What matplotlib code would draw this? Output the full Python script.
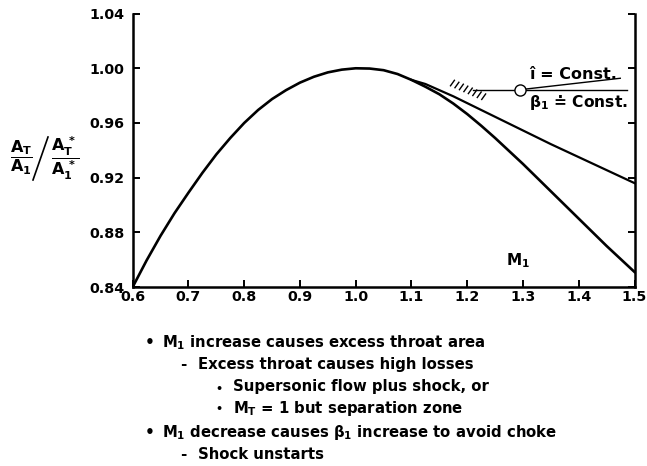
import numpy as np
import matplotlib
matplotlib.use("Agg")
import matplotlib.pyplot as plt
from matplotlib.lines import Line2D

# Throat-area ratio vs inlet Mach number
m_left = [0.600, 0.625, 0.650, 0.675, 0.700, 0.725, 0.750, 0.775, 0.800, 0.825,
          0.850, 0.875, 0.900, 0.925, 0.950, 0.975, 1.000, 1.025, 1.050, 1.075, 1.100]
ratio_left = [0.840, 0.8595, 0.8775, 0.894, 0.909, 0.9235, 0.937, 0.949, 0.960, 0.9695,
              0.9775, 0.984, 0.9895, 0.9938, 0.997, 0.999, 1.000, 0.9998, 0.9986, 0.9958, 0.9915]

m_right = [1.100, 1.125, 1.150, 1.175, 1.200, 1.225, 1.250, 1.275, 1.300, 1.350, 1.400, 1.450, 1.500]
ratio_beta = [0.9915, 0.9865, 0.981, 0.9742, 0.9665, 0.958, 0.949, 0.9395, 0.930, 0.910, 0.890, 0.870, 0.851]
ratio_inc = [0.9915, 0.9885, 0.984, 0.9795, 0.9745, 0.9695, 0.9645, 0.9595, 0.9545, 0.9445, 0.935, 0.9255, 0.916]

x_ticks = [0.6, 0.7, 0.8, 0.9, 1.0, 1.1, 1.2, 1.3, 1.4, 1.5]
y_ticks = [0.84, 0.88, 0.92, 0.96, 1.00, 1.04]

bullets = [
    (0, r"$M_1$ increase causes excess throat area"),
    (1, "Excess throat causes high losses"),
    (2, "Supersonic flow plus shock, or"),
    (2, r"$M_T$ = 1 but separation zone"),
    (0, r"$M_1$ decrease causes $\beta_1$ increase to avoid choke"),
    (1, "Shock unstarts"),
]

plt.rcParams["font.family"] = ["DejaVu Sans"]
plt.rcParams["font.weight"] = "bold"
plt.rcParams["mathtext.fontset"] = "custom"
plt.rcParams["mathtext.rm"] = "DejaVu Sans:bold"
plt.rcParams["mathtext.it"] = "DejaVu Sans:bold"
plt.rcParams["mathtext.bf"] = "DejaVu Sans:bold"
plt.rcParams["mathtext.sf"] = "DejaVu Sans:bold"
plt.rcParams["mathtext.fallback"] = "stixsans"

W, H = 647, 466
fig = plt.figure(figsize=(W / 100, H / 100), dpi=100)
ax = fig.add_axes([132.7 / W, 1 - 287 / H, (634.5 - 132.7) / W, (287 - 13.6) / H])

ax.plot(m_left + m_right[1:], ratio_left + ratio_beta[1:], color="black", lw=1.9,
        solid_joinstyle="round")
ax.plot(m_right, ratio_inc, color="black", lw=1.6, solid_joinstyle="round")

# operating point with the two constant lines
op_m, op_r = 1.294, 0.9843
ax.plot([1.21, op_m], [op_r, op_r], color="black", lw=1.0)
ax.plot([op_m, 1.486], [op_r, op_r], color="black", lw=1.0)
ax.plot([op_m, 1.4745], [op_r, 0.9927], color="black", lw=1.0)
ax.plot([op_m], [op_r], marker="o", ms=8, mfc="white", mec="black", mew=1.0, zorder=5)

# hatched wall
for s in np.linspace(0, 1, 8):
    x0 = 1.170 + s * (1.226 - 1.170)
    y0 = 0.9872 + s * (0.9772 - 0.9872)
    ax.plot([x0, x0 + 0.0070], [y0, y0 + 0.0040], color="black", lw=1.0)

ax.text(1.390, 0.9958, "î = Const.", fontsize=11.5, ha="center", va="center")
ax.text(1.400, 0.9753, r"$\beta_1$ ≐ Const.", fontsize=11.2, ha="center", va="center")
ax.text(1.291, 0.859, r"$M_1$", fontsize=11, ha="center", va="center")

ax.set_xlim(0.6, 1.5)
ax.set_ylim(0.84, 1.04)
ax.set_xticks(x_ticks)
ax.set_xticklabels([f"{v:.1f}" for v in x_ticks])
ax.set_yticks(y_ticks)
ax.set_yticklabels([f"{v:.2f}" for v in y_ticks])
ax.spines["top"].set_visible(False)
for side in ["left", "right", "bottom"]:
    ax.spines[side].set_linewidth(1.8)
ax.tick_params(direction="in", length=5, width=1.4, right=True, top=False,
               labelright=False)
ax.tick_params(axis="x", pad=2)
ax.tick_params(axis="y", pad=6)
for lab in ax.get_xticklabels() + ax.get_yticklabels():
    lab.set_fontweight("bold")
    lab.set_fontsize(10.3)

# y-axis label drawn as two stacked fractions with a slash
fig.text(21 / W, 1 - 158 / H, r"$\dfrac{A_T}{A_1}$", fontsize=11.5, ha="center", va="center")
fig.text(65 / W, 1 - 158 / H, r"$\dfrac{A_T^{\,*}}{A_1^{\,*}}$", fontsize=11.5, ha="center", va="center")
fig.add_artist(Line2D([33 / W, 48 / W], [1 - 180 / H, 1 - 137 / H], color="black", lw=1.2))

# bullet list under the chart
baselines = [347, 369, 391.5, 412.5, 436.5, 459]
mark_x = [145, 180, 215]
text_x = [161.7, 198.3, 233.3]
marks = ["•", "-", "•"]
mark_size = [11, 11, 8]
for (lvl, txt), yb in zip(bullets, baselines):
    fig.text(mark_x[lvl] / W, 1 - yb / H, marks[lvl], fontsize=mark_size[lvl], va="baseline")
    fig.text(text_x[lvl] / W, 1 - yb / H, txt, fontsize=10.7, va="baseline")

fig.savefig("out.png", dpi=100)
